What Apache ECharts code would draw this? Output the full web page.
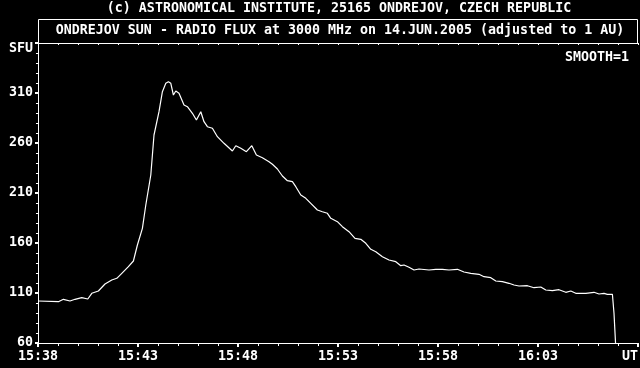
<!DOCTYPE html>
<html>
<head>
<meta charset="utf-8">
<script src="https://cdn.jsdelivr.net/npm/echarts@6/dist/echarts.min.js"></script>
<style>
html,body{margin:0;padding:0;background:#000;}
#chart{width:640px;height:368px;}
</style>
</head>
<body>
<div id="chart"></div>
<script>
// minutes after 15:38 UT
var minutes = [0.00,1.02,1.27,1.60,1.85,2.19,2.49,2.69,3.02,3.35,3.69,3.94,4.19,4.52,4.77,4.97,5.22,5.39,5.64,5.80,6.05,6.22,6.39,6.52,6.64,6.77,6.89,7.05,7.14,7.30,7.47,7.72,7.92,8.14,8.30,8.47,8.72,8.97,9.30,9.72,9.89,10.14,10.42,10.69,10.92,11.22,11.55,11.72,11.97,12.22,12.47,12.72,12.89,13.14,13.39,13.64,13.97,14.22,14.47,14.64,14.97,15.22,15.55,15.85,16.14,16.39,16.64,16.89,17.22,17.55,17.89,18.14,18.30,18.55,18.80,19.05,19.55,19.89,20.22,20.55,20.97,21.30,21.64,22.05,22.30,22.64,22.89,23.22,23.55,23.80,24.05,24.47,24.80,25.14,25.39,25.72,26.05,26.39,26.64,26.89,27.39,27.80,28.05,28.30,28.47,28.72,28.80,28.89];
// radio flux, SFU
var flux = [102,101.3,103.7,102,103.7,105.3,104,109.7,112,119,123,124.7,129.7,136.3,142,158,174.7,198,228,268,291.3,311.3,319.7,321.3,319.7,308,312,309.7,308,298,296.3,289.7,283,291.3,281.3,276.3,274.7,266.3,259.7,252,257.3,254.7,251.3,257.3,248,245.3,241.3,238.7,234,227,222.3,221.3,216.3,208,204.7,199.7,193,191.3,189.7,184.7,181.3,176.3,171.3,164.7,163.7,159.7,153.7,151.3,146.3,143,141.3,137.3,138,135.7,133,134,133,133.7,133.7,133,133.7,131,129.7,128.7,126.3,125.3,122,121.3,119.7,118,117,117.3,115.3,116,113,112.3,113.3,110.7,112,109.7,109.7,110.7,109,109.7,108.7,108.7,89.7,55];
var xTickLabels = ["15:38","15:43","15:48","15:53","15:58","16:03"];
var yTickValues = [60,110,160,210,260,310];
var titleTop = "(c) ASTRONOMICAL INSTITUTE, 25165 ONDREJOV, CZECH REPUBLIC";
var titleBox = "ONDREJOV SUN - RADIO FLUX at 3000 MHz on 14.JUN.2005 (adjusted to 1 AU)";
var yUnit = "SFU";
var xUnit = "UT";
var note = "SMOOTH=1";

var FONT = '"DejaVu Sans Mono", "Liberation Mono", monospace';
var FS = 13.3;
var data = minutes.map(function(m, i){ return [m, flux[i]]; });
var chart = echarts.init(document.getElementById('chart'), null, {renderer:'canvas'});
var txt = {fill:'#fff', fontFamily: FONT, fontSize: FS, fontWeight:'bold'};
chart.setOption({
  backgroundColor:'#000',
  animation:false,
  grid:{left:38, right:2, top:43, bottom:25, containLabel:false},
  xAxis:[{
    type:'value', min:0, max:30, interval:5,
    axisLine:{show:true, lineStyle:{color:'#fff', width:1}},
    axisTick:{show:true, inside:false, length:4, lineStyle:{color:'#fff', width:2}},
    minorTick:{show:true, splitNumber:5, length:3, lineStyle:{color:'#fff', width:1}},
    splitLine:{show:false},
    axisLabel:{color:'#fff', fontFamily:FONT, fontSize:FS, fontWeight:'bold', margin:7,
      showMaxLabel:false,
      formatter:function(v){ var i=Math.round(v/5); return xTickLabels[i]!==undefined?xTickLabels[i]:''; }}
  },{
    type:'value', position:'top', min:0, max:30, interval:1,
    axisLine:{show:true, lineStyle:{color:'#fff', width:1}},
    axisTick:{show:true, inside:true, length:2, lineStyle:{color:'#fff', width:1}},
    axisLabel:{show:false}, splitLine:{show:false}
  }],
  yAxis:[{
    type:'value', min:60, max:360, interval:50,
    axisLine:{show:true, lineStyle:{color:'#fff', width:1}},
    axisTick:{show:true, inside:false, length:3, lineStyle:{color:'#fff', width:2}},
    minorTick:{show:true, splitNumber:5, length:2, lineStyle:{color:'#fff', width:1}},
    splitLine:{show:false},
    axisLabel:{color:'#fff', fontFamily:FONT, fontSize:FS, fontWeight:'bold', margin:5,
      showMaxLabel:false,
      formatter:function(v){ return yTickValues.indexOf(v)>=0 ? String(v) : ''; }}
  },{
    type:'value', position:'right', min:60, max:360,
    axisLine:{show:true, lineStyle:{color:'#fff', width:1}},
    axisTick:{show:false}, axisLabel:{show:false}, splitLine:{show:false}
  }],
  series:[{
    type:'line', data:data, xAxisIndex:0, yAxisIndex:0,
    showSymbol:false, symbol:'none', smooth:false, clip:true,
    lineStyle:{color:'#fff', width:1.2}
  }],
  graphic:[
    {type:'rect', shape:{x:38.5, y:19.5, width:599, height:24}, style:{fill:null, stroke:'#fff', lineWidth:1}, silent:true},
    {type:'text', x:339, y:9, style:Object.assign({text:titleTop, textAlign:'center', textVerticalAlign:'middle'}, txt)},
    {type:'text', x:340, y:31, style:Object.assign({text:titleBox, textAlign:'center', textVerticalAlign:'middle'}, txt)},
    {type:'text', x:33, y:49, style:Object.assign({text:yUnit, textAlign:'right', textVerticalAlign:'middle'}, txt)},
    {type:'text', x:629, y:58, style:Object.assign({text:note, textAlign:'right', textVerticalAlign:'middle'}, txt)},
    {type:'text', x:638, y:357, style:Object.assign({text:xUnit, textAlign:'right', textVerticalAlign:'middle'}, txt)}
  ]
});
</script>
</body>
</html>
